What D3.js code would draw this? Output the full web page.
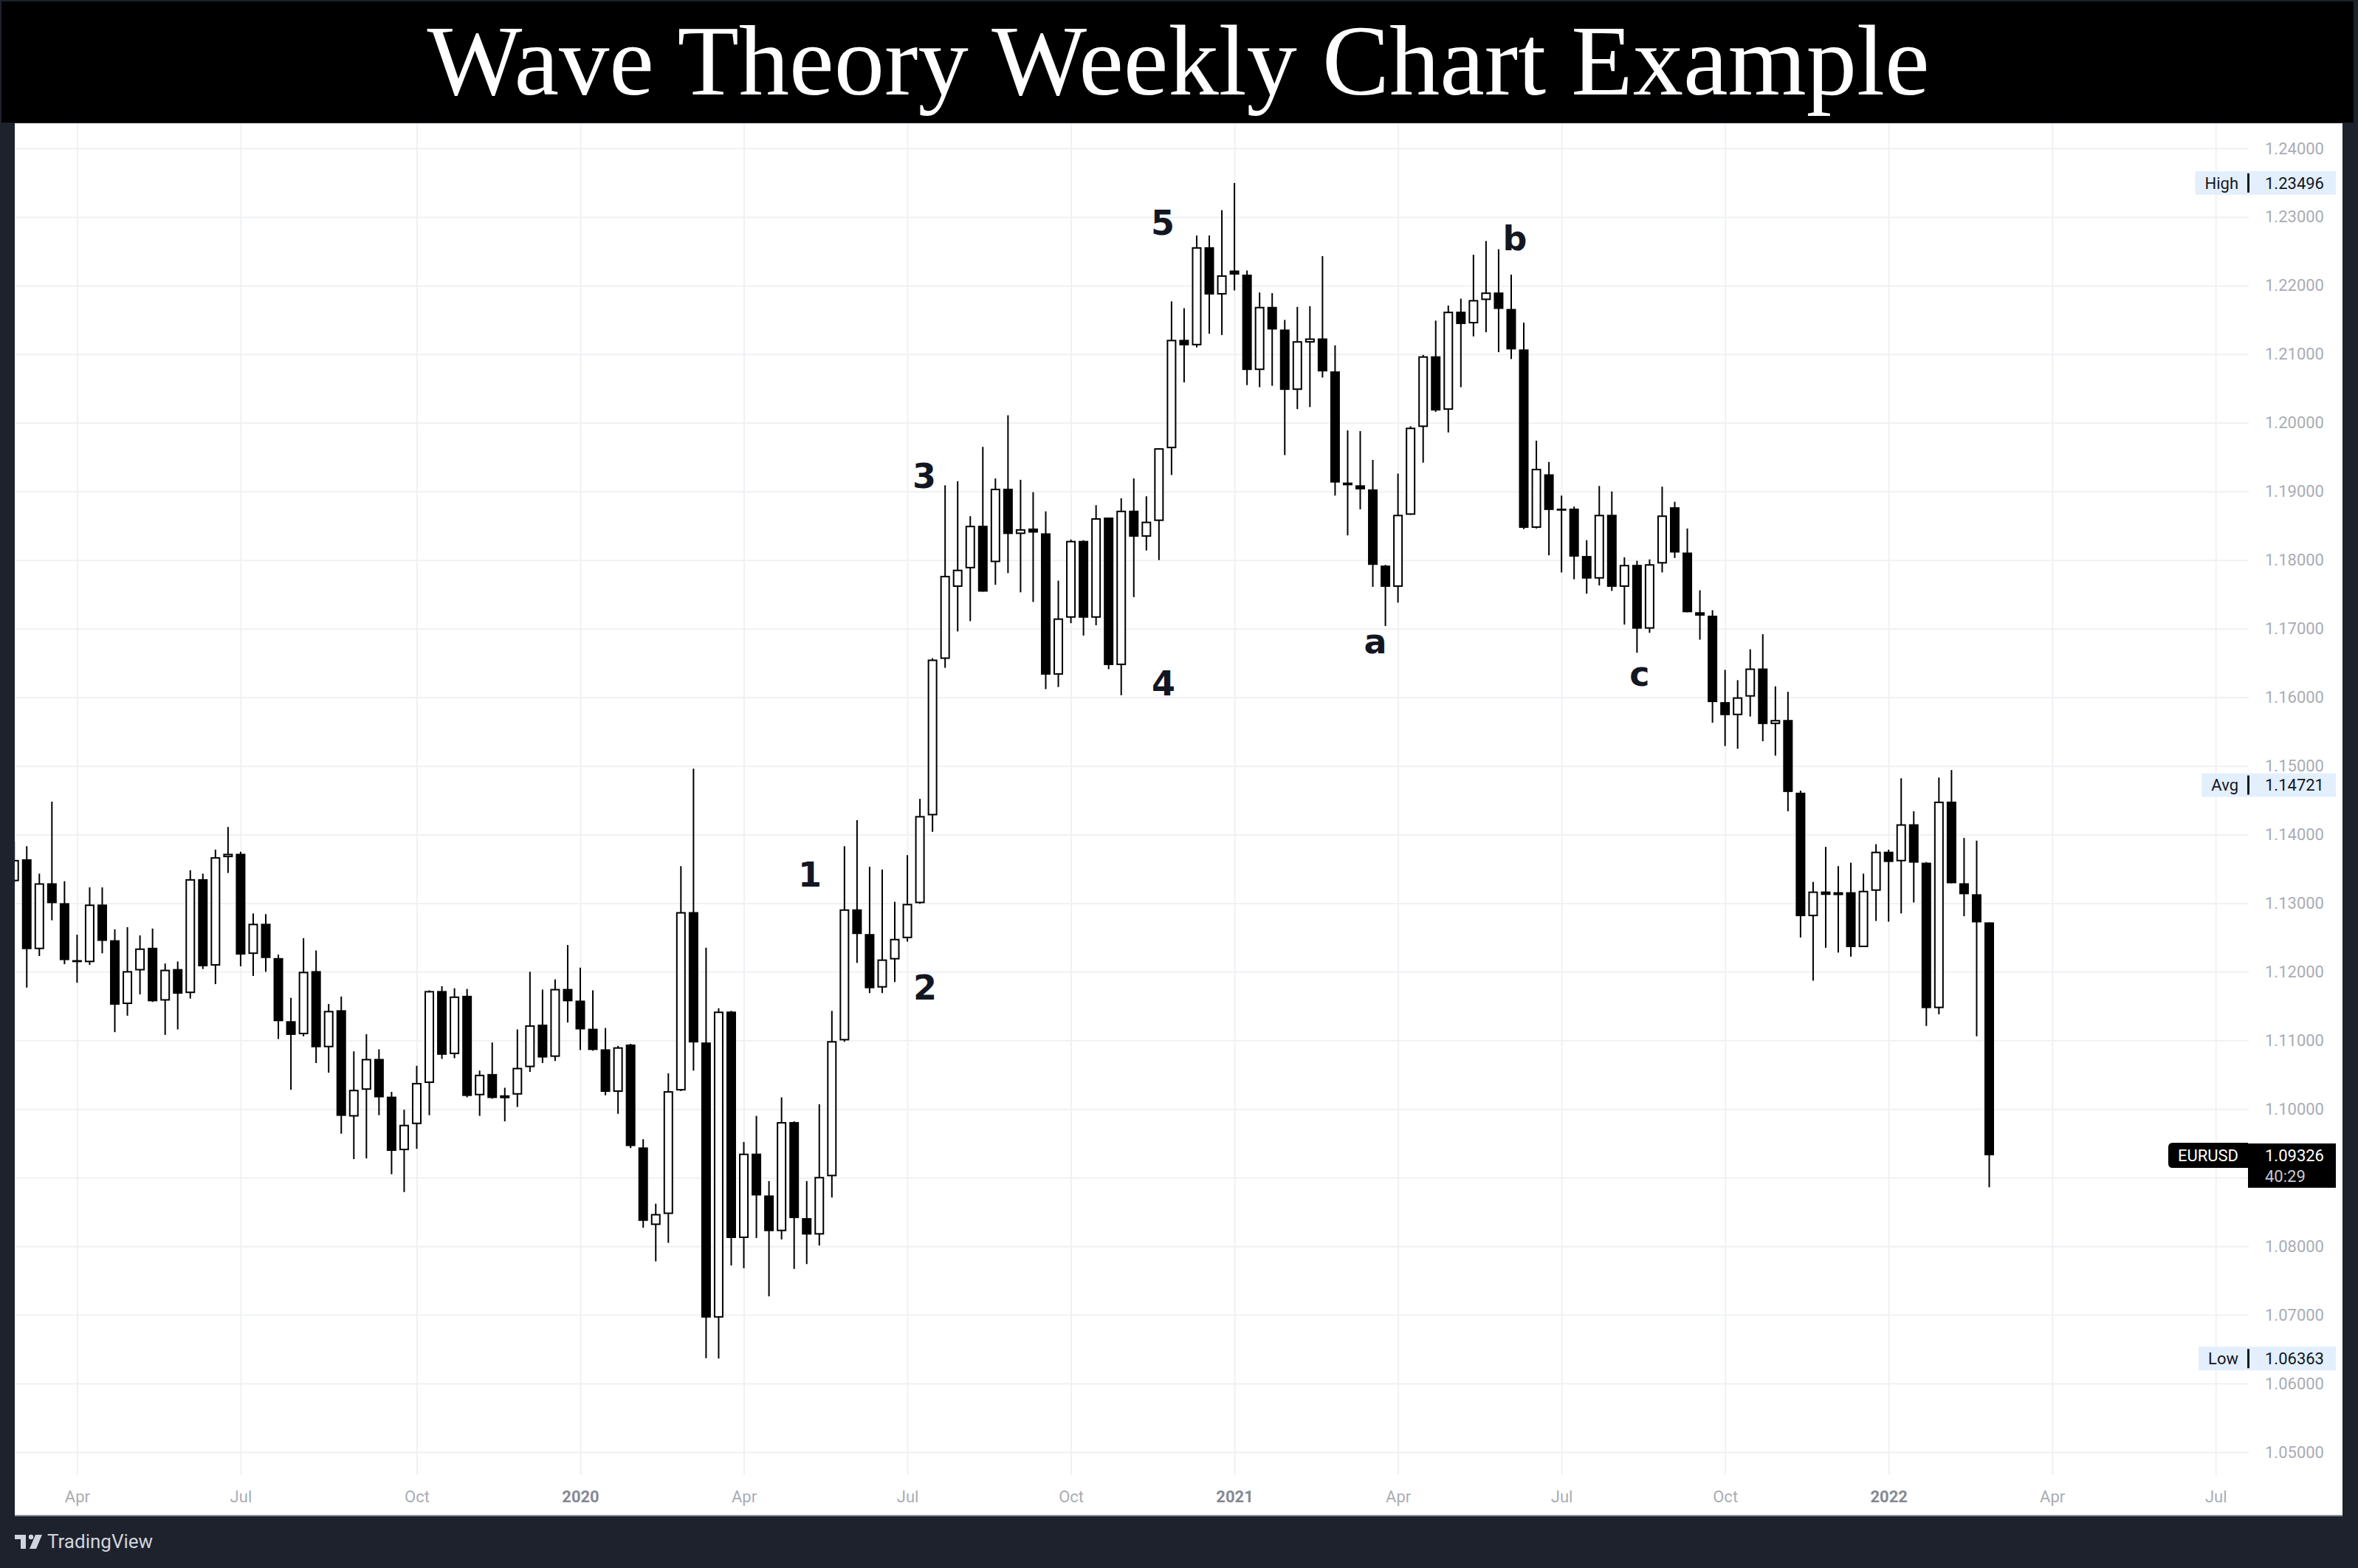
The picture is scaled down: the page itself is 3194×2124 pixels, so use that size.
<!DOCTYPE html>
<html><head><meta charset="utf-8">
<script src="https://cdn.jsdelivr.net/npm/d3@7"></script>
<style>html,body{margin:0;padding:0;background:#1e222d;overflow:hidden}svg{display:block}</style>
</head><body>
<svg id="chart" width="3194" height="2124"></svg>
<script>
// ---------------- DATA ----------------
const titleText = "Wave Theory Weekly Chart Example";
const symbol = "EURUSD";
const firstWeek = "2019-02-25";
const lastWeek = "2022-02-28";
const open = [
1.1332,1.1364,1.1233,1.1329,1.1300,1.1217,1.1214,1.1298,1.1246,1.1153,
1.1202,1.1235,1.1158,1.1204,1.1169,1.1335,1.1209,1.1367,1.1372,1.1226,
1.1270,1.1220,1.1128,1.1109,1.1201,1.1090,1.1144,1.0989,1.1028,1.1073,
1.1018,1.0940,1.0978,1.1038,1.1172,1.1080,1.1165,1.1020,1.1051,1.1017,
1.1021,1.1061,1.1123,1.1076,1.1175,1.1158,1.1117,1.1087,1.1025,1.1094,
1.0944,1.0831,1.0847,1.1027,1.1287,1.1097,1.0696,1.1142,1.0812,1.0935,
1.0874,1.0822,1.0981,1.0841,1.0817,1.0902,1.1100,1.1291,1.1255,1.1177,
1.1218,1.1249,1.1300,1.1428,1.1656,1.1761,1.1788,1.1850,1.1797,1.1904,
1.1838,1.1846,1.1839,1.1633,1.1716,1.1828,1.1716,1.1862,1.1647,1.1872,
1.1834,1.1857,1.1963,1.2121,1.2113,1.2256,1.2187,1.2222,1.2216,1.2077,
1.2169,1.2136,1.2048,1.2117,1.2123,1.2075,1.1913,1.1909,1.1903,1.1792,
1.1761,1.1866,1.1994,1.2097,1.2019,1.2162,1.2145,1.2179,1.2190,1.2166,
1.2107,1.1847,1.1925,1.1875,1.1875,1.1806,1.1773,1.1866,1.1761,1.1793,
1.1700,1.1795,1.1877,1.1811,1.1724,1.1719,1.1593,1.1574,1.1601,1.1642,
1.1561,1.1567,1.1461,1.1281,1.1317,1.1312,1.1316,1.1236,1.1318,1.1375,
1.1361,1.1415,1.1359,1.1147,1.1448,1.1329,1.1313,1.1272];
const high = [
1.1390,1.1383,1.1343,1.1448,1.1332,1.1254,1.1323,1.1323,1.1262,1.1265,
1.1253,1.1263,1.1212,1.1215,1.1348,1.1343,1.1378,1.1411,1.1375,1.1285,
1.1284,1.1225,1.1162,1.1249,1.1231,1.1153,1.1164,1.1084,1.1109,1.1087,
1.1025,1.0999,1.1063,1.1173,1.1179,1.1176,1.1175,1.1056,1.1097,1.1031,
1.1116,1.1200,1.1174,1.1189,1.1239,1.1206,1.1173,1.1118,1.1092,1.1095,
1.0956,1.0862,1.1052,1.1354,1.1496,1.1235,1.1147,1.1143,1.0952,1.0990,
1.0895,1.1017,1.0982,1.0895,1.1007,1.1143,1.1383,1.1421,1.1353,1.1349,
1.1302,1.1370,1.1452,1.1657,1.1909,1.1915,1.1864,1.1965,1.1919,1.2011,
1.1917,1.1899,1.1871,1.1770,1.1830,1.1829,1.1880,1.1862,1.1890,1.1919,
1.1893,1.1963,1.2177,1.2167,1.2273,1.2273,1.2310,1.23496,1.2222,1.2190,
1.2189,1.2150,1.2169,1.2170,1.2243,1.2113,1.1989,1.1988,1.1946,1.1793,
1.1926,1.1995,1.2099,1.2149,1.2171,1.2181,1.2245,1.2265,1.2253,1.2216,
1.2146,1.1974,1.1943,1.1894,1.1878,1.1829,1.1908,1.1900,1.1804,1.1799,
1.1801,1.1907,1.1885,1.1846,1.1756,1.1727,1.1640,1.1625,1.1670,1.1692,
1.1616,1.1608,1.1464,1.1331,1.1382,1.1354,1.1359,1.1343,1.1386,1.1378,
1.1482,1.1434,1.1360,1.1483,1.1494,1.1395,1.1391,1.1272];
const low = [
1.1329,1.1177,1.1223,1.1275,1.1211,1.1184,1.1210,1.1227,1.1112,1.1136,
1.1167,1.1156,1.1108,1.1116,1.1161,1.1204,1.1182,1.1344,1.1208,1.1194,
1.1200,1.1102,1.1028,1.1106,1.1067,1.1053,1.0964,1.0927,1.0928,1.0991,
1.0905,1.0879,1.0942,1.0991,1.1073,1.1074,1.1017,1.0990,1.1015,1.0982,
1.1003,1.1054,1.1067,1.1070,1.1126,1.1086,1.1085,1.1020,1.0993,1.0943,
1.0827,1.0778,1.0805,1.1026,1.1056,1.0637,1.06363,1.0772,1.0768,1.0812,
1.0727,1.0810,1.0767,1.0774,1.0801,1.0871,1.1098,1.1213,1.1169,1.1169,
1.1185,1.1244,1.1299,1.1404,1.1643,1.1696,1.1711,1.1754,1.1764,1.1781,
1.1753,1.1739,1.1612,1.1615,1.1708,1.1690,1.1705,1.1641,1.1603,1.1746,
1.1814,1.1800,1.1924,1.2059,1.2110,1.2130,1.2128,1.2193,1.2055,1.2052,
1.2054,1.1953,1.2020,1.2023,1.2066,1.1894,1.1836,1.1874,1.1761,1.1704,
1.1738,1.1866,1.1942,1.2016,1.1986,1.2052,1.2126,1.2132,1.2103,1.2093,
1.1845,1.1846,1.1807,1.1782,1.1772,1.1751,1.1763,1.1755,1.1706,1.1665,
1.1694,1.1782,1.1803,1.1724,1.1684,1.1563,1.1529,1.1525,1.1572,1.1536,
1.1515,1.1434,1.1250,1.1187,1.1235,1.1228,1.1222,1.1236,1.1274,1.1273,
1.1285,1.1301,1.1121,1.1138,1.1329,1.1281,1.1106,1.0886];
const close = [
1.1363,1.1233,1.1329,1.1300,1.1217,1.1214,1.1298,1.1245,1.1152,1.1201,
1.1234,1.1157,1.1203,1.1168,1.1335,1.1208,1.1367,1.1372,1.1225,1.1270,
1.1220,1.1128,1.1108,1.1200,1.1090,1.1143,1.0990,1.1028,1.1073,1.1017,
1.0939,1.0977,1.1038,1.1172,1.1079,1.1164,1.1019,1.1050,1.1016,1.1020,
1.1060,1.1122,1.1075,1.1175,1.1157,1.1116,1.1086,1.1025,1.1090,1.0946,
1.0837,1.0847,1.1026,1.1287,1.1097,1.0696,1.1142,1.0812,1.0935,1.0874,
1.0822,1.0981,1.0841,1.0817,1.0901,1.1099,1.1291,1.1255,1.1176,1.1218,
1.1248,1.1299,1.1427,1.1655,1.1777,1.1786,1.1850,1.1754,1.1904,1.1838,
1.1845,1.1840,1.1633,1.1715,1.1828,1.1716,1.1861,1.1647,1.1872,1.1834,
1.1856,1.1963,1.2121,1.2113,1.2256,1.2187,1.2215,1.2216,1.2077,1.2169,
1.2136,1.2048,1.2119,1.2123,1.2075,1.1913,1.1909,1.1903,1.1793,1.1761,
1.1866,1.1993,1.2097,1.2018,1.2162,1.2144,1.2179,1.2190,1.2166,1.2107,
1.1847,1.1933,1.1873,1.1872,1.1805,1.1773,1.1866,1.1761,1.1793,1.1700,
1.1794,1.1865,1.1811,1.1724,1.1719,1.1593,1.1574,1.1600,1.1642,1.1561,
1.1567,1.1462,1.1281,1.1317,1.1312,1.1316,1.1236,1.1318,1.1375,1.1360,
1.1415,1.1359,1.1147,1.1448,1.1329,1.1313,1.1272,1.09326];
const priceTicks = [1.05,1.06,1.07,1.08,1.09,1.10,1.11,1.12,1.13,1.14,1.15,1.16,1.17,1.18,1.19,1.20,1.21,1.22,1.23,1.24];
const axisStart = "2019-04-01", axisEnd = "2022-08-01";
const statNames = ["High","Avg","Low"];
const statValues = [1.23496, 1.14721, 1.06363];
const lastPrice = 1.09326;
const countdown = "40:29";
// wave labels: text, bar position (week index), price at baseline
const waveText  = ["1","2","3","4","5","a","b","c"];
const waveBar   = [63.25, 72.4, 72.35, 91.36, 91.3, 108.2, 119.3, 129.2];
const wavePrice = [1.13244, 1.11598, 1.19052, 1.16030, 1.22741, 1.16643, 1.22516, 1.16170];

// ---------------- LAYOUT ----------------
const W = 3194, H = 2124;
const pane = {left:20, top:167, right:3173, bottom:2053};
const plot = {left:20, top:167, right:3046, bottom:1998};
const FONT = "Roboto, 'Liberation Sans', sans-serif";

const parse = d3.utcParse("%Y-%m-%d");
const weeks = d3.utcMonday.range(parse(firstWeek), d3.utcDay.offset(parse(lastWeek), 1));
const bars = weeks.map((d,i)=>({date:d, o:open[i], h:high[i], l:low[i], c:close[i]}));

const x = d3.scaleUtc().domain([parse(firstWeek), parse(lastWeek)]).range([19.2, 2694.5]);
const xi = d3.scaleLinear().domain([0, weeks.length-1]).range(x.range());
const y = d3.scaleLinear().domain([1.05, 1.24]).range([1967, 201]);
const ly = y(lastPrice);

const svg = d3.select("#chart");
svg.append("rect").attr("width",W).attr("height",H).attr("fill","#1e222d");
// title bar
svg.append("rect").attr("x",2).attr("y",2).attr("width",W-8).attr("height",164).attr("fill","#000");
svg.append("text").attr("x",1596).attr("y",128).attr("text-anchor","middle")
  .attr("font-family","'Liberation Serif','Times New Roman',serif").attr("font-size",136.5)
  .attr("fill","#fff").text(titleText);
// white pane
svg.append("rect").attr("x",pane.left).attr("y",pane.top).attr("width",pane.right-pane.left)
  .attr("height",pane.bottom-pane.top).attr("fill","#fff");
svg.append("rect").attr("x",pane.left).attr("y",pane.bottom-1).attr("width",pane.right-pane.left)
  .attr("height",2).attr("fill","#8e919a");

svg.append("clipPath").attr("id","plotclip").append("rect")
  .attr("x",plot.left).attr("y",plot.top).attr("width",plot.right-plot.left).attr("height",plot.bottom-plot.top);

// quarterly ticks at first weekly bar of month
const qTicks = d3.utcMonth.every(3).range(parse(axisStart), parse(axisEnd)).map(d=>d3.utcMonday.ceil(d));
const fmtTick = d => d.getUTCMonth()===0 ? String(d.getUTCFullYear()) : d3.utcFormat("%b")(d);

// grid
const gGrid = svg.append("g").attr("clip-path","url(#plotclip)");
gGrid.append("g").attr("transform",`translate(${plot.left},0)`)
  .call(d3.axisLeft(y).tickValues(priceTicks).tickSize(-(plot.right-plot.left)).tickFormat(""))
  .call(g=>g.select(".domain").remove())
  .call(g=>g.selectAll("line").attr("stroke","#eff1f4").attr("stroke-width",2));
gGrid.append("g").attr("transform",`translate(0,${plot.bottom})`)
  .call(d3.axisBottom(x).tickValues(qTicks).tickSize(-(plot.bottom-plot.top)).tickFormat(""))
  .call(g=>g.select(".domain").remove())
  .call(g=>g.selectAll("line").attr("stroke","#eff1f4").attr("stroke-width",2));

// price axis (labels hidden behind the last-price box are not drawn, as in the reference)
const visibleTicks = priceTicks.filter(p => Math.abs(y(p) - (ly + 14)) > 36);
svg.append("g").attr("transform",`translate(${plot.right},0)`)
  .call(d3.axisRight(y).tickValues(visibleTicks).tickFormat(d3.format(".5f")).tickSize(0).tickPadding(22))
  .call(g=>g.select(".domain").remove())
  .call(g=>g.selectAll("text").attr("font-family",FONT).attr("font-size",22).attr("fill","#a9acb5"));

// time axis
svg.append("g").attr("transform",`translate(0,${plot.bottom})`)
  .call(d3.axisBottom(x).tickValues(qTicks).tickFormat(fmtTick).tickSize(0))
  .call(g=>g.select(".domain").remove())
  .call(g=>g.selectAll("text").attr("y",29).attr("dy","0.35em").attr("font-family",FONT).attr("font-size",22)
     .attr("fill",d=>d.getUTCMonth()===0?"#868993":"#a9acb5")
     .attr("font-weight",d=>d.getUTCMonth()===0?"bold":"normal"));

// candles
const gC = svg.append("g").attr("clip-path","url(#plotclip)");
gC.selectAll("line.wick").data(bars).join("line").attr("class","wick")
  .attr("x1",d=>x(d.date)).attr("x2",d=>x(d.date))
  .attr("y1",d=>y(d.h)).attr("y2",d=>y(d.l)).attr("stroke","#000").attr("stroke-width",2);
const up = bars.filter(d=>d.c>=d.o), dn = bars.filter(d=>d.c<d.o);
gC.selectAll("rect.dn").data(dn).join("rect").attr("class","dn")
  .attr("x",d=>x(d.date)-6.5).attr("width",13)
  .attr("y",d=>y(d.o)).attr("height",d=>Math.max(y(d.c)-y(d.o),2.5)).attr("fill","#000");
gC.selectAll("rect.up").data(up).join("rect").attr("class","up")
  .attr("x",d=>x(d.date)-5.5).attr("width",11)
  .attr("y",d=>y(d.c)+1).attr("height",d=>Math.max(y(d.o)-y(d.c)-2,2))
  .attr("fill","#fff").attr("stroke","#000").attr("stroke-width",2);

// wave labels
svg.append("g").selectAll("text").data(waveText).join("text")
  .attr("x",(d,i)=>xi(waveBar[i])).attr("y",(d,i)=>y(wavePrice[i]))
  .attr("text-anchor","middle").attr("font-family","'DejaVu Sans',Verdana,sans-serif")
  .attr("font-weight","bold").attr("font-size",46).attr("fill","#131722").text(d=>d);

// stat labels (High / Avg / Low)
const gS = svg.append("g").attr("font-family",FONT).attr("font-size",22);
statNames.forEach((name,i)=>{
  const cy = y(statValues[i]);
  const g = gS.append("g");
  const bg = g.append("rect").attr("y",cy-16).attr("height",32).attr("fill","#e3effd");
  const t = g.append("text").attr("x",3032).attr("y",cy).attr("dy","0.35em").attr("text-anchor","end")
    .attr("fill","#131722").text(name);
  const w = t.node().getComputedTextLength();
  bg.attr("x",3032-w-13).attr("width",(3164)-(3032-w-13));
  g.append("rect").attr("x",3044).attr("y",cy-13).attr("width",3).attr("height",26).attr("fill","#131722");
  g.append("text").attr("x",3068).attr("y",cy).attr("dy","0.35em").attr("fill","#131722")
    .text(d3.format(".5f")(statValues[i]));
});
// last price label
const gL = svg.append("g").attr("font-family",FONT).attr("font-size",22);
gL.append("path").attr("d",`M3045,${ly-17} L2943,${ly-17} Q2937,${ly-17} 2937,${ly-11} L2937,${ly+11} Q2937,${ly+17} 2943,${ly+17} L3045,${ly+17} Z`).attr("fill","#000");
gL.append("text").attr("x",2991).attr("y",ly).attr("dy","0.35em").attr("text-anchor","middle").attr("fill","#fff").text(symbol);
gL.append("rect").attr("x",3045).attr("y",ly-16).attr("width",119).attr("height",60).attr("fill","#000");
gL.append("text").attr("x",3068).attr("y",ly).attr("dy","0.35em").attr("fill","#fff").text(d3.format(".5f")(lastPrice));
gL.append("text").attr("x",3068).attr("y",ly+28).attr("dy","0.35em").attr("fill","#c8cad0").text(countdown);

// TradingView footer logo
const gF = svg.append("g").attr("fill","#d1d4dc");
gF.append("rect").attr("x",20).attr("y",2079).attr("width",15).attr("height",6);
gF.append("rect").attr("x",28).attr("y",2079).attr("width",7).attr("height",19);
gF.append("circle").attr("cx",42).attr("cy",2082).attr("r",3.2);
gF.append("path").attr("d","M48,2079 L57,2079 L49,2098 L40,2098 Z");
gF.append("text").attr("x",64).attr("y",2088).attr("dy","0.35em").attr("font-family",FONT)
  .attr("font-size",26).attr("fill","#d1d4dc").text("TradingView");
</script>
</body></html>
